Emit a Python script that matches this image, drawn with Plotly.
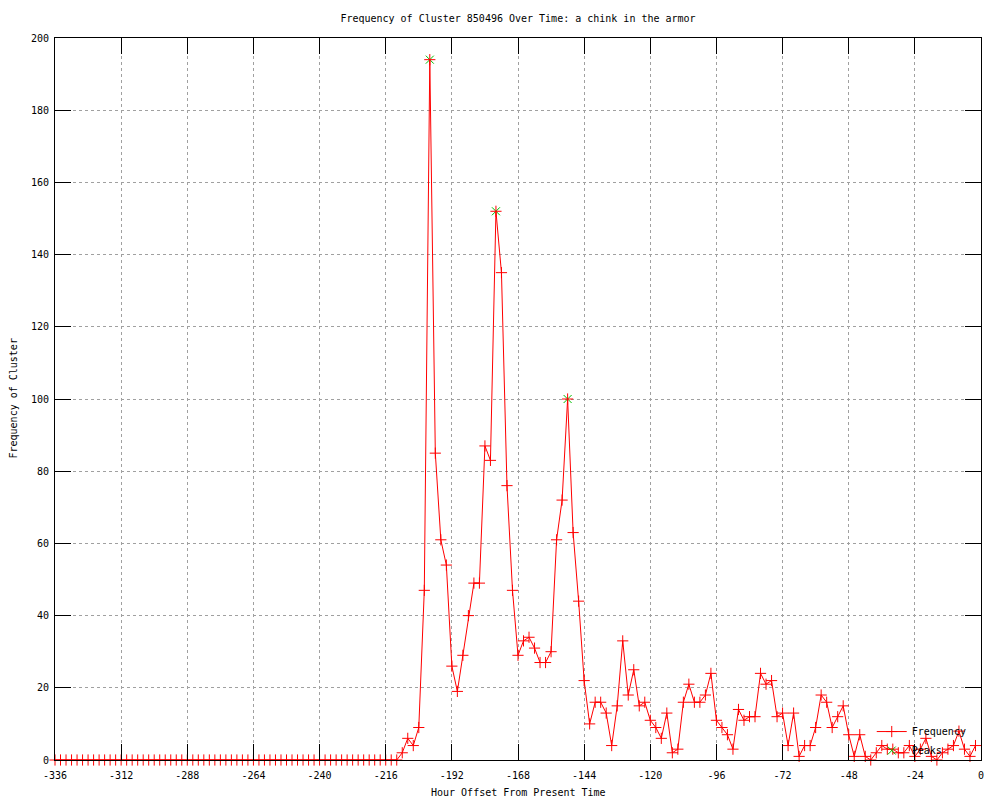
import plotly.graph_objects as go

# Hour offsets (every 2 hours from -336 to -2)
hours = list(range(-336, 0, 2))

# Frequency values: zeros from -336 to -212, then read values from -210 to -2
zeros_part = [0] * 63
active_part = [
    2, 6, 4, 9, 47, 194, 85, 61, 54, 26,      # -210 .. -192
    19, 29, 40, 49, 49, 87, 83, 152, 135, 76,  # -190 .. -172
    47, 29, 33, 34, 31, 27, 27, 30, 61, 72,    # -170 .. -152
    100, 63, 44, 22, 10, 16, 16, 13, 4, 15,    # -150 .. -132
    33, 18, 25, 15, 16, 11, 9, 6, 13, 2,       # -130 .. -112
    3, 16, 21, 16, 16, 18, 24, 11, 9, 7,       # -110 .. -92
    3, 14, 11, 12, 12, 24, 21, 22, 12, 13,     # -90 .. -72
    4, 13, 1, 4, 4, 9, 18, 16, 9, 12,          # -70 .. -52
    15, 7, 1, 7, 1, 0, 2, 4, 3, 3,             # -50 .. -32
    2, 2, 4, 1, 3, 6, 1, 0, 2, 3,              # -30 .. -12
    4, 8, 3, 1, 4,                             # -10 .. -2
]
frequency = zeros_part + active_part

# Detected peaks
peak_hours = [-200, -176, -150]
peak_values = [194, 152, 100]

# Axis ticks
x_tickvals = list(range(-336, 1, 24))
x_ticktext = [str(v) for v in x_tickvals]
y_tickvals = list(range(0, 201, 20))
y_ticktext = [str(v) for v in y_tickvals]

FONT = "DejaVu Sans Mono"

fig = go.Figure()

fig.add_trace(go.Scatter(
    x=peak_hours, y=peak_values, name="Peaks", mode="markers",
    marker=dict(symbol="x-thin-open", size=8, color="#00c000",
                line=dict(color="#00c000", width=1)),
    cliponaxis=False, legendrank=2,
))

fig.add_trace(go.Scatter(
    x=hours, y=frequency, name="Frequency", mode="lines+markers",
    line=dict(color="#ff0000", width=1),
    marker=dict(symbol="cross-thin-open", size=8, color="#ff0000",
                line=dict(color="#ff0000", width=1)),
    cliponaxis=False, legendrank=1,
))

fig.update_layout(
    width=1000, height=800,
    margin=dict(l=55, r=19, t=38, b=40),
    paper_bgcolor="white", plot_bgcolor="white",
    font=dict(family=FONT, size=10, color="black"),
    title=dict(text="Frequency of Cluster 850496 Over Time: a chink in the armor",
               x=0.518, xanchor="center", y=1 - 18 / 800, yanchor="middle",
               yref="container", font=dict(family=FONT, size=10, color="black")),
    showlegend=True,
    legend=dict(x=0.99, xanchor="right", y=-0.007, yanchor="bottom",
                bgcolor="rgba(0,0,0,0)", font=dict(family=FONT, size=10),
                tracegroupgap=0, itemwidth=30),
)

fig.update_xaxes(
    range=[-336, 0], tickmode="array", tickvals=x_tickvals, ticktext=x_ticktext,
    ticks="inside", ticklen=16, tickwidth=1, tickcolor="black",
    showline=True, linecolor="black", linewidth=1, mirror="ticks",
    showgrid=True, gridcolor="#a0a0a0", gridwidth=1, griddash="3px,3px",
    zeroline=False, ticklabelstandoff=6,
    tickfont=dict(family=FONT, size=10, color="black"),
)
fig.update_yaxes(
    range=[0, 200], tickmode="array", tickvals=y_tickvals, ticktext=y_ticktext,
    ticks="inside", ticklen=16, tickwidth=1, tickcolor="black",
    showline=True, linecolor="black", linewidth=1, mirror="ticks",
    showgrid=True, gridcolor="#a0a0a0", gridwidth=1, griddash="3px,3px",
    zeroline=False, ticklabelstandoff=3,
    tickfont=dict(family=FONT, size=10, color="black"),
)

fig.add_annotation(text="Hour Offset From Present Time", xref="paper", yref="paper",
                   x=0.5, y=-33 / 722, xanchor="center", yanchor="middle",
                   showarrow=False, font=dict(family=FONT, size=10, color="black"))
fig.add_annotation(text="Frequency of Cluster", xref="paper", yref="paper",
                   x=-42.5 / 926, y=0.5, xanchor="center", yanchor="middle",
                   textangle=-90, showarrow=False,
                   font=dict(family=FONT, size=10, color="black"))

fig.write_html("out.html", config={"displayModeBar": False},
               post_script="document.body.style.margin='0';document.body.style.overflow='hidden';")
